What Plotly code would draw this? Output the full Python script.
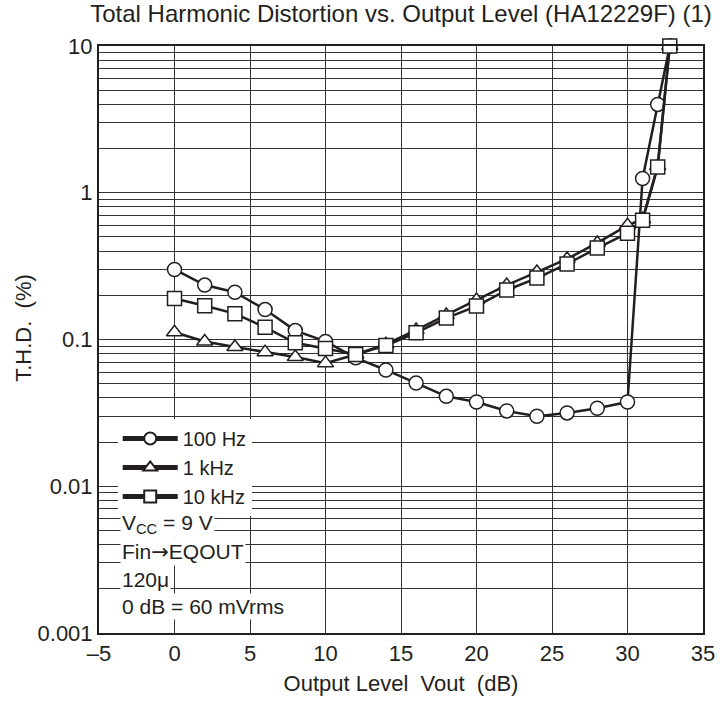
import plotly.graph_objects as go

# output level (dB)
vout = [0, 2, 4, 6, 8, 10, 12, 14, 16, 18, 20, 22, 24, 26, 28, 30, 31, 32, 32.8]

# T.H.D. (%)
thd_100hz = [0.30, 0.235, 0.21, 0.16, 0.115, 0.097, 0.075, 0.062, 0.0505, 0.041,
             0.0375, 0.0326, 0.030, 0.0316, 0.034, 0.0375, 1.25, 4.0, 10.0]
thd_1khz = [0.112, 0.097, 0.089, 0.082, 0.076, 0.069, 0.079, 0.093, 0.116, 0.147,
            0.186, 0.235, 0.288, 0.354, 0.455, 0.60, 0.66, 1.52, 10.0]
thd_10khz = [0.19, 0.17, 0.15, 0.121, 0.095, 0.087, 0.079, 0.091, 0.111, 0.140,
             0.169, 0.217, 0.262, 0.327, 0.42, 0.53, 0.65, 1.50, 10.0]

y_ticks = [0.001, 0.01, 0.1, 1, 10]
y_ticktext = ["0.001", "0.01", "0.1", "1", "10"]
x_ticks = [-5, 0, 5, 10, 15, 20, 25, 30, 35]
x_ticktext = ["\u20135", "0", "5", "10", "15", "20", "25", "30", "35"]

ARROW = "<span style='font-family:DejaVu Sans'>\u2192</span>"
notes = ["V<sub>CC</sub> = 9 V", "Fin" + ARROW + "EQOUT", "120\u03bc", "0 dB = 60 mVrms"]

INK = "#231f20"
FONT = "Liberation Sans, Arial, sans-serif"

# minor log gridlines 2..9 in every decade
minor_vals = [k * 10.0 ** e for e in range(-3, 1) for k in range(2, 10)]

fig = go.Figure()

series = [
    ("100 Hz", thd_100hz, "circle"),
    ("1 kHz", thd_1khz, "triangle-up"),
    ("10 kHz", thd_10khz, "square"),
]
for name, vals, sym in series:
    fig.add_trace(go.Scatter(
        x=vout, y=vals, name=name,
        mode="lines+markers", cliponaxis=False,
        line=dict(color=INK, width=2.5),
        marker=dict(symbol=sym, size=14, color="white",
                    line=dict(color=INK, width=1.5)),
    ))

fig.update_layout(
    width=727, height=704,
    margin=dict(l=99, r=18, t=46, b=71),
    plot_bgcolor="white", paper_bgcolor="white",
    font=dict(family=FONT, size=22, color=INK),
    title=dict(text="Total Harmonic Distortion vs. Output Level (HA12229F) (1)",
               x=0.5, xref="paper", xanchor="center",
               y=1 - 14 / 704, yref="container", yanchor="middle",
               font=dict(size=24, color=INK)),
    showlegend=True,
    legend=dict(x=0.031, xanchor="left", y=(633 - 419) / 587, yanchor="top",
                bgcolor="white", borderwidth=0, itemsizing="constant",
                itemwidth=55,
                font=dict(size=20, color=INK), tracegroupgap=0),
)

fig.update_xaxes(
    range=[-5, 35], tickvals=x_ticks, ticktext=x_ticktext,
    showgrid=True, gridcolor="#333333", gridwidth=1,
    showline=True, linecolor=INK, linewidth=2, mirror=True,
    zeroline=False, ticks="", ticklen=0,
    tickfont=dict(size=22, color=INK),
    title=dict(text="Output Level  Vout  (dB)", standoff=10,
               font=dict(size=22, color=INK)),
)
fig.update_yaxes(
    type="log", range=[-3, 1], tickvals=y_ticks, ticktext=y_ticktext,
    showgrid=True, gridcolor="#333333", gridwidth=1,
    minor=dict(tickvals=minor_vals, showgrid=True, gridcolor="#333333",
               gridwidth=1, ticks=""),
    showline=True, linecolor=INK, linewidth=2, mirror=True,
    zeroline=False, ticks="", ticklen=0,
    tickfont=dict(size=22, color=INK),
)

# rotated y-axis title
fig.add_annotation(text="T.H.D.  (%)", xref="paper", yref="paper",
                   x=-77 / 610, y=(633 - 328) / 587, textangle=-90,
                   showarrow=False, xanchor="center", yanchor="middle",
                   font=dict(size=22, color=INK))

# condition notes under the legend, each on its own white box
for i, txt in enumerate(notes):
    ypx = 524 + i * 27.5
    fig.add_annotation(text=txt, xref="paper", yref="paper",
                       x=(120 - 99) / 610, y=(633 - ypx) / 587,
                       xanchor="left", yanchor="middle", showarrow=False,
                       bgcolor="white", borderpad=1,
                       font=dict(size=21, color=INK))

fig.write_html("out.html", config={"displayModeBar": False},
               post_script="document.body.style.margin='0';")
